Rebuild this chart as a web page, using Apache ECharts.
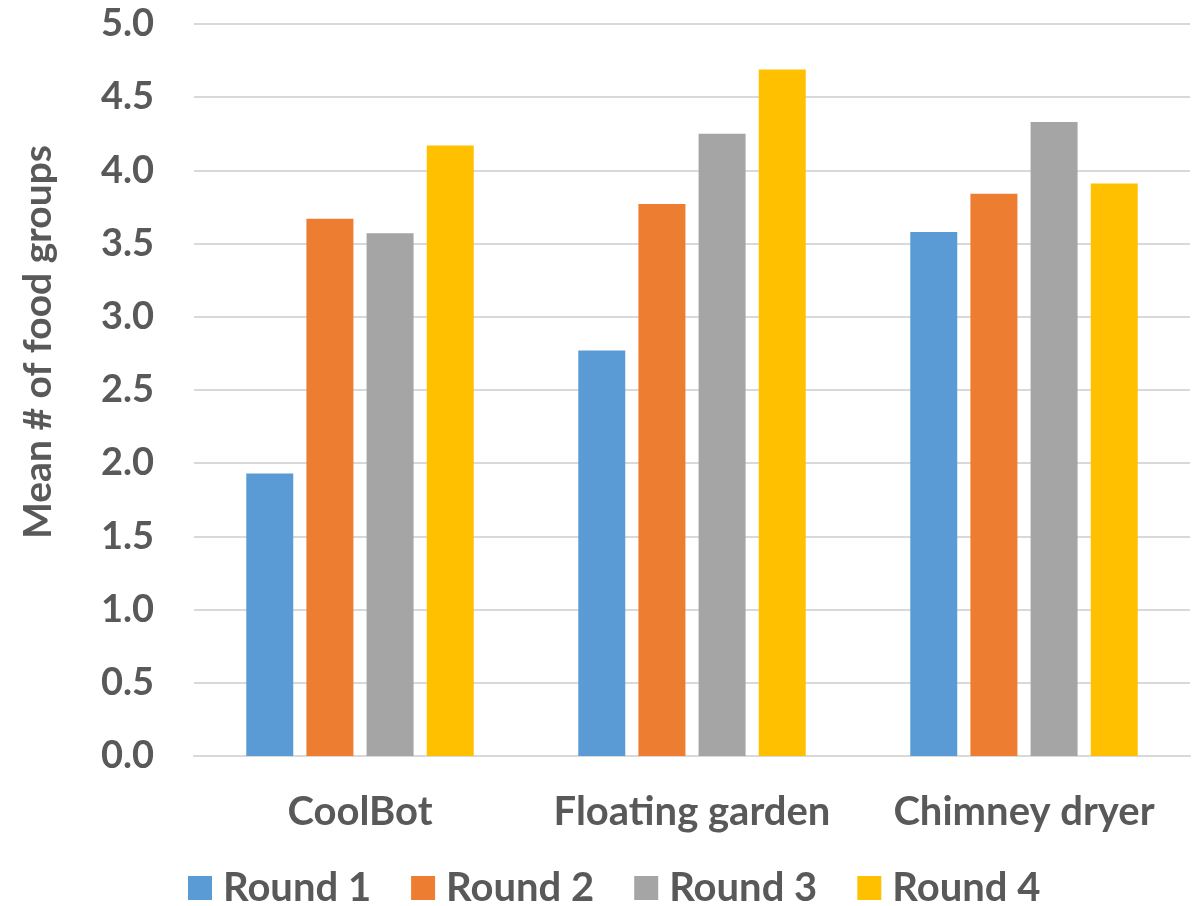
<!DOCTYPE html>
<html><head><meta charset="utf-8">
<script src="https://cdn.jsdelivr.net/npm/echarts@6/dist/echarts.min.js"></script>
<style>html,body{margin:0;padding:0;background:#fff}#c{width:1194px;height:906px}</style>
</head><body><div id="c"></div>
<script>
const categories = ['CoolBot', 'Floating garden', 'Chimney dryer'];
const seriesNames = ['Round 1', 'Round 2', 'Round 3', 'Round 4'];
const round1 = [1.93, 2.77, 3.58];
const round2 = [3.67, 3.77, 3.84];
const round3 = [3.57, 4.25, 4.33];
const round4 = [4.17, 4.69, 3.91];
const yTicks = ['0.0','0.5','1.0','1.5','2.0','2.5','3.0','3.5','4.0','4.5','5.0'];
const colors = ['#5b9bd5', '#ed7d31', '#a5a5a5', '#ffc000'];
const yAxisTitle = 'Mean # of food groups';

const font = 'Lato, "Open Sans", sans-serif';
const txt = '#595959';
const data = [round1, round2, round3, round4];
const chart = echarts.init(document.getElementById('c'), null, {renderer: 'canvas'});
chart.setOption({
  animation: false,
  backgroundColor: '#fff',
  grid: {left: 194, right: 4, top: 24, bottom: 150, containLabel: false},
  legend: {
    bottom: -7, left: 183,
    itemWidth: 24, itemHeight: 24, itemGap: 40,
    icon: 'rect',
    textStyle: {fontFamily: font, fontWeight: 'bold', fontSize: 40, color: txt, padding: [0,0,0,6]},
    data: seriesNames
  },
  xAxis: {
    type: 'category', data: categories,
    axisLine: {lineStyle: {color: '#d9d9d9', width: 2}},
    axisTick: {show: false},
    axisLabel: {interval: 0, fontFamily: font, fontWeight: 'bold', fontSize: 40, color: txt, margin: 36}
  },
  yAxis: {
    type: 'value', min: 0, max: 5, interval: 0.5,
    axisLine: {show: false}, axisTick: {show: false},
    splitLine: {lineStyle: {color: '#d9d9d9', width: 2}},
    axisLabel: {fontFamily: font, fontWeight: 'bold', fontSize: 38, color: txt, margin: 40,
      formatter: (v) => yTicks[Math.round(v * 2)]}
  },
  graphic: [{
    type: 'text', left: 19, top: 145, rotation: Math.PI / 2,
    style: {text: yAxisTitle, font: 'bold 39px ' + font, fill: txt}
  }],
  series: seriesNames.map((n, i) => ({
    name: n, type: 'bar', data: data[i], barWidth: 47, barGap: '28%',
    itemStyle: {color: colors[i]}
  }))
});
</script></body></html>
